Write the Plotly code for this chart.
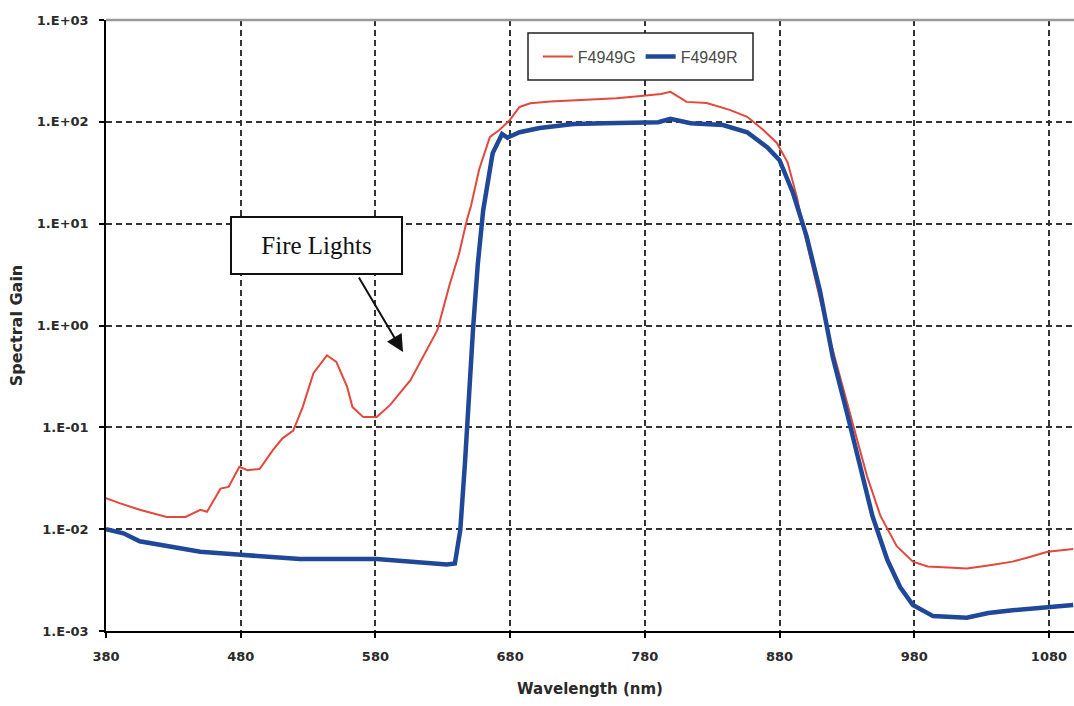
import plotly.graph_objects as go

# ---- data ----
wl_g = [380, 390, 405, 425, 439, 450, 455, 465, 471, 479, 485, 494, 504, 511, 519, 526, 534, 544,
        551, 559, 563, 571, 581, 591, 606, 615, 626, 635, 642, 648, 651, 657, 665, 672, 680, 687,
        695, 710, 727, 745, 759, 779, 792, 799, 811, 826, 843, 856, 868, 878, 886, 893, 899, 905, 915,
        925, 935, 945, 955, 967, 979, 990, 1005, 1019, 1035, 1053, 1065, 1079, 1098]
gain_g = [0.0202, 0.018, 0.0155, 0.0132, 0.0132, 0.0155, 0.0148, 0.025, 0.026, 0.041, 0.038, 0.039,
          0.06, 0.078, 0.093, 0.158, 0.34, 0.51, 0.44, 0.25, 0.158, 0.126, 0.126, 0.166, 0.29, 0.49,
          0.9, 2.5, 5, 11, 15, 34, 71, 83, 105, 140, 152, 158, 163, 166, 170, 180, 188, 197, 157,
          153, 131, 112, 83, 62, 40, 18, 7.5, 3.5, 0.95, 0.31, 0.1, 0.033, 0.0134, 0.0068, 0.0048,
          0.0043, 0.0042, 0.0041, 0.0044, 0.0048, 0.0053, 0.006, 0.0064]

wl_r = [380, 393, 405, 425, 450, 480, 524, 581, 611, 633, 639, 643, 646.5, 650, 652.5, 656, 660,
        667, 674, 678, 687, 702, 727, 750, 776, 790, 799, 814, 838, 856, 871, 880, 890, 900, 910,
        919.5, 930, 940, 949, 960, 969.5, 979, 994, 1019, 1035, 1053, 1079, 1098]
gain_r = [0.0100, 0.0091, 0.0076, 0.0068, 0.006, 0.0056, 0.0051, 0.0051, 0.0047, 0.0045, 0.0046,
          0.0098, 0.045, 0.3, 0.93, 4, 13.5, 49, 76, 70, 79, 87, 95, 97, 97, 99, 107, 97, 93, 79,
          56, 42, 20, 7.6, 2.2, 0.49, 0.14, 0.042, 0.0134, 0.005, 0.0027, 0.0018, 0.0014, 0.00135,
          0.0015, 0.0016, 0.0017, 0.0018]

series_names = ["F4949G", "F4949R"]
x_ticks = [380, 480, 580, 680, 780, 880, 980, 1080]
y_ticks = [1e-3, 1e-2, 1e-1, 1e0, 1e1, 1e2, 1e3]
y_ticktext = ["1.E-03", "1.E-02", "1.E-01", "1.E+00", "1.E+01", "1.E+02", "1.E+03"]

fig = go.Figure()
fig.add_trace(go.Scatter(x=wl_g, y=gain_g, mode="lines", name=series_names[0],
                         line=dict(color="rgb(226,72,60)", width=2)))
fig.add_trace(go.Scatter(x=wl_r, y=gain_r, mode="lines", name=series_names[1],
                         line=dict(color="rgb(32,72,152)", width=4.5)))

tick_font = dict(family="DejaVu Sans", size=13, color="#2a2a2a", weight="bold")
xtitle_font = dict(family="DejaVu Sans", size=15, color="#2a2a2a", weight="bold")
ytitle_font = dict(family="DejaVu Sans", size=16, color="#2a2a2a", weight="bold")
grid = dict(showgrid=True, gridcolor="#333333", griddash="6px,4px", gridwidth=2)

fig.update_layout(
    width=1074, height=706,
    margin=dict(l=106, r=0, t=20, b=75),
    paper_bgcolor="white", plot_bgcolor="white",
    showlegend=True,
    legend=dict(orientation="h", x=0.552, y=0.9403, xanchor="center", yanchor="middle",
                bgcolor="rgba(0,0,0,0)", borderwidth=0,
                font=dict(family="Liberation Sans, Arial", size=16, color="#4a4a4a")),
    xaxis=dict(range=[380, 1098.6], tickvals=x_ticks, ticks="outside", ticklen=5,
               tickcolor="black", tickwidth=1.5,
               showline=True, linecolor="black", linewidth=1.5,
               zeroline=False, tickfont=tick_font, ticklabelstandoff=8,
               title=dict(text="Wavelength (nm)", font=xtitle_font, standoff=20),
               automargin=False, **grid),
    yaxis=dict(type="log", range=[-3, 3], tickvals=y_ticks, ticktext=y_ticktext,
               ticks="outside", ticklen=5, tickcolor="black", tickwidth=1.5,
               showline=True, linecolor="black", linewidth=1.5,
               zeroline=False, tickfont=tick_font, ticklabelstandoff=8,
               title=dict(text="Spectral Gain", font=ytitle_font, standoff=10),
               automargin=False, **grid),
    shapes=[
        # top border of plot area (grey)
        dict(type="line", xref="paper", yref="paper", x0=0, x1=1, y0=1, y1=1,
             line=dict(color="#9a9a9a", width=2.5)),
        # legend box
        dict(type="rect", xref="paper", yref="paper",
             x0=(528 - 106) / 968, x1=(753 - 106) / 968,
             y0=(631 - 80) / 611, y1=(631 - 33) / 611,
             fillcolor="white", line=dict(color="#222222", width=1.5), layer="above"),
    ],
    annotations=[
        dict(text="Fire Lights", xref="paper", yref="paper",
             x=(316.5 - 106) / 968, y=(631 - 245.5) / 611, xanchor="center", yanchor="middle",
             showarrow=False, width=169, height=55, borderpad=0, borderwidth=2,
             bordercolor="#111111", bgcolor="white",
             font=dict(family="Liberation Serif, Times New Roman", size=25, color="#111111")),
        dict(text="", xref="paper", yref="paper",
             x=(403 - 106) / 968, y=(631 - 352) / 611,
             ax=-45, ay=-76, axref="pixel", ayref="pixel",
             showarrow=True, arrowhead=2, arrowsize=1.7, arrowwidth=2, arrowcolor="#111111"),
    ],
)

fig.write_html("out.html")
